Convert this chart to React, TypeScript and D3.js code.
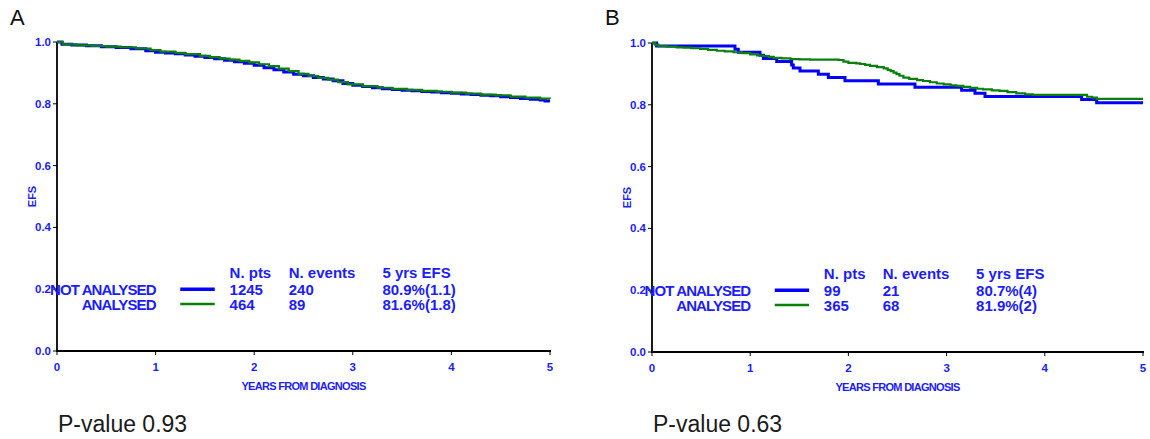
import React from 'react';
import * as d3 from 'd3';

type Pt = [number, number];

const YEAR_TICKS = [0, 1, 2, 3, 4, 5];
const EFS_TICKS = [0, 0.2, 0.4, 0.6, 0.8, 1.0];
const GROUPS = ['NOT ANALYSED', 'ANALYSED'];
const HEADERS = ['N. pts', 'N. events', '5 yrs EFS'];
const PANEL_LABELS = ['A', 'B'];
const P_VALUES = ['P-value 0.93', 'P-value 0.63'];

const A_PTS = ['1245', '464'];
const A_EVENTS = ['240', '89'];
const A_EFS = ['80.9%(1.1)', '81.6%(1.8)'];
const B_PTS = ['99', '365'];
const B_EVENTS = ['21', '68'];
const B_EFS = ['80.7%(4)', '81.9%(2)'];

const A_NOT_ANALYSED: Pt[] = [
  [0, 1.0], [0.05, 0.993], [0.15, 0.99], [0.3, 0.988], [0.45, 0.985], [0.6, 0.982],
  [0.75, 0.978], [0.9, 0.972], [1.0, 0.967], [1.1, 0.964], [1.2, 0.962], [1.3, 0.958],
  [1.4, 0.954], [1.5, 0.95], [1.6, 0.946], [1.7, 0.941], [1.8, 0.936], [1.9, 0.931],
  [2.0, 0.925], [2.1, 0.917], [2.2, 0.91], [2.3, 0.903], [2.4, 0.896], [2.5, 0.891],
  [2.6, 0.885], [2.7, 0.88], [2.8, 0.875], [2.9, 0.866], [3.0, 0.86], [3.1, 0.856],
  [3.2, 0.852], [3.3, 0.849], [3.4, 0.846], [3.5, 0.844], [3.6, 0.842], [3.7, 0.84],
  [3.8, 0.838], [3.9, 0.836], [4.0, 0.834], [4.1, 0.832], [4.2, 0.83], [4.3, 0.828],
  [4.4, 0.826], [4.5, 0.823], [4.6, 0.82], [4.7, 0.817], [4.8, 0.815], [4.9, 0.812],
  [4.95, 0.809], [5.0, 0.809],
];

const A_ANALYSED: Pt[] = [
  [0, 1.0], [0.06, 0.992], [0.2, 0.989], [0.35, 0.987], [0.5, 0.985], [0.65, 0.983],
  [0.8, 0.979], [0.95, 0.974], [1.05, 0.969], [1.2, 0.965], [1.3, 0.961], [1.45, 0.955],
  [1.55, 0.951], [1.65, 0.946], [1.75, 0.943], [1.85, 0.939], [1.95, 0.934], [2.05, 0.928],
  [2.15, 0.922], [2.25, 0.914], [2.35, 0.906], [2.45, 0.897], [2.55, 0.89], [2.65, 0.884],
  [2.75, 0.878], [2.85, 0.87], [2.95, 0.863], [3.1, 0.857], [3.25, 0.852], [3.4, 0.848],
  [3.55, 0.845], [3.7, 0.842], [3.85, 0.839], [4.0, 0.836], [4.15, 0.833], [4.3, 0.83],
  [4.45, 0.827], [4.6, 0.823], [4.75, 0.82], [4.9, 0.817], [5.0, 0.816],
];

const B_NOT_ANALYSED: Pt[] = [
  [0, 1.0], [0.047, 0.99], [0.845, 0.98], [0.879, 0.97], [1.1, 0.96], [1.134, 0.95],
  [1.27, 0.94], [1.422, 0.929], [1.439, 0.919], [1.507, 0.909], [1.694, 0.899],
  [1.796, 0.888], [1.965, 0.878], [2.305, 0.867], [2.678, 0.857], [3.153, 0.847],
  [3.289, 0.837], [3.391, 0.827], [4.375, 0.817], [4.528, 0.807], [5.0, 0.807],
];

const B_ANALYSED: Pt[] = [
  [0, 1.0], [0.03, 0.995], [0.064, 0.99], [0.15, 0.988], [0.25, 0.986], [0.32, 0.985],
  [0.4, 0.983], [0.49, 0.981], [0.57, 0.978], [0.66, 0.975], [0.74, 0.973], [0.83, 0.97],
  [0.92, 0.967], [1.0, 0.963], [1.07, 0.96], [1.13, 0.958], [1.19, 0.955], [1.24, 0.952],
  [1.32, 0.95], [1.41, 0.948], [1.5, 0.947], [1.61, 0.946], [1.9, 0.945], [1.95, 0.94],
  [2.0, 0.936], [2.08, 0.934], [2.12, 0.932], [2.17, 0.929], [2.22, 0.926], [2.29, 0.922],
  [2.36, 0.918], [2.4, 0.913], [2.43, 0.909], [2.46, 0.904], [2.49, 0.899], [2.52, 0.894],
  [2.56, 0.888], [2.62, 0.884], [2.7, 0.88], [2.76, 0.877], [2.83, 0.873], [2.9, 0.869],
  [2.97, 0.866], [3.04, 0.863], [3.1, 0.861], [3.17, 0.858], [3.24, 0.855], [3.31, 0.852],
  [3.37, 0.85], [3.46, 0.847], [3.54, 0.845], [3.62, 0.841], [3.71, 0.837], [3.8, 0.834],
  [3.88, 0.832], [4.43, 0.826], [4.48, 0.823], [4.53, 0.819], [5.0, 0.819],
];

const TXT = '#1c1cff';
const BLUE = '#0000ff';
const GREEN = '#0a800a';
const FONT = 'Liberation Sans, Arial, sans-serif';

interface PanelProps {
  label: string;
  pvalue: string;
  x0: number;
  x1: number;
  y0: number;
  y1: number;
  notAnalysed: Pt[];
  analysed: Pt[];
  pts: string[];
  events: string[];
  efs: string[];
}

function Panel(p: PanelProps) {
  const x = d3.scaleLinear().domain([0, 5]).range([p.x0, p.x1]);
  const y = d3.scaleLinear().domain([0, 1]).range([p.y0, p.y1]);
  const line = d3
    .line<Pt>()
    .x((d) => x(d[0]))
    .y((d) => y(d[1]))
    .curve(d3.curveStepAfter);

  const legRows = [y(0.2), y(0.152)];
  const headY = y(0.255);
  const colX = [x(1.75), x(2.35), x(3.3)];
  const values = [p.pts, p.events, p.efs];
  const legFont = 15;

  return (
    <g fontFamily={FONT}>
      <text x={p.x0 - 47} y={25} fontSize={22} fill="#111">{p.label}</text>

      {/* axes */}
      <line x1={p.x0} x2={p.x0} y1={y(1)} y2={y(0) + 1} stroke="#000" strokeWidth={1.8} />
      <line x1={p.x0 - 1} x2={p.x1 + 1} y1={y(0)} y2={y(0)} stroke="#000" strokeWidth={1.8} />
      {EFS_TICKS.map((t) => (
        <g key={'y' + t}>
          <line x1={p.x0 - 4} x2={p.x0} y1={y(t)} y2={y(t)} stroke="#000" strokeWidth={1} />
          <text x={p.x0 - 6} y={y(t) + 4} textAnchor="end" fontSize={11.5} fontWeight="bold" fill={TXT}>
            {t.toFixed(1)}
          </text>
        </g>
      ))}
      {YEAR_TICKS.map((t) => (
        <g key={'x' + t}>
          <line x1={x(t)} x2={x(t)} y1={y(0)} y2={y(0) + 4} stroke="#000" strokeWidth={1} />
          <text x={x(t)} y={y(0) + 20} textAnchor="middle" fontSize={11.5} fontWeight="bold" fill={TXT}>
            {t}
          </text>
        </g>
      ))}
      <text
        x={(p.x0 + p.x1) / 2}
        y={y(0) + 39}
        textAnchor="middle"
        fontSize={11}
        fontWeight="bold"
        letterSpacing={-0.7}
        fill={TXT}
      >
        YEARS FROM DIAGNOSIS
      </text>
      <text
        transform={`translate(${p.x0 - 21},${(y(0) + y(1)) / 2}) rotate(-90)`}
        textAnchor="middle"
        fontSize={11}
        fontWeight="bold"
        fill={TXT}
      >
        EFS
      </text>

      {/* curves */}
      <path d={line(p.notAnalysed) || ''} fill="none" stroke={BLUE} strokeWidth={3} />
      <path d={line(p.analysed) || ''} fill="none" stroke={GREEN} strokeWidth={2.2} />

      {/* legend */}
      {HEADERS.map((h, i) => (
        <text key={h} x={colX[i]} y={headY + 5.5} fontSize={legFont} fontWeight="bold" fill={TXT}>
          {h}
        </text>
      ))}
      {GROUPS.map((g, r) => (
        <g key={g}>
          <text
            x={x(1.0)}
            y={legRows[r] + 5.5}
            textAnchor="end"
            fontSize={legFont}
            fontWeight="bold"
            letterSpacing={-0.9}
            fill={TXT}
          >
            {g}
          </text>
          <line
            x1={x(1.25)}
            x2={x(1.6)}
            y1={legRows[r]}
            y2={legRows[r]}
            stroke={r === 0 ? BLUE : GREEN}
            strokeWidth={r === 0 ? 3.5 : 2.5}
          />
          {values.map((v, c) => (
            <text key={c} x={colX[c]} y={legRows[r] + 5.5} fontSize={legFont} fontWeight="bold" fill={TXT}>
              {v[r]}
            </text>
          ))}
        </g>
      ))}

      <text x={p.x0 + 1} y={432} fontSize={23} fill="#1a1a1a">{p.pvalue}</text>
    </g>
  );
}

export default function App() {
  return (
    <svg
      width={1150}
      height={439}
      viewBox="0 0 1150 439"
      style={{ position: 'absolute', left: 0, top: 0, background: '#fff', display: 'block' }}
    >
      <rect width={1150} height={439} fill="#fff" />
      <Panel
        label={PANEL_LABELS[0]}
        pvalue={P_VALUES[0]}
        x0={57}
        x1={550}
        y0={351}
        y1={42}
        notAnalysed={A_NOT_ANALYSED}
        analysed={A_ANALYSED}
        pts={A_PTS}
        events={A_EVENTS}
        efs={A_EFS}
      />
      <Panel
        label={PANEL_LABELS[1]}
        pvalue={P_VALUES[1]}
        x0={652}
        x1={1143}
        y0={352}
        y1={43}
        notAnalysed={B_NOT_ANALYSED}
        analysed={B_ANALYSED}
        pts={B_PTS}
        events={B_EVENTS}
        efs={B_EFS}
      />
    </svg>
  );
}
